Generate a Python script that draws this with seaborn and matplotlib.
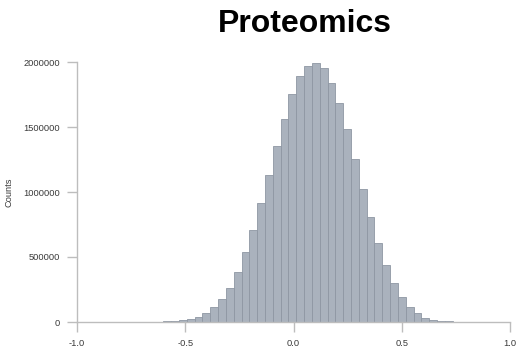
import pandas as pd
import matplotlib
matplotlib.use("Agg")
import matplotlib.pyplot as plt
import seaborn as sns

# Histogram of proteomics values: fixed-width bins, counts per bin
bin_start = -0.637
bin_width = 0.0361
counts = [
    2000, 4000, 7000, 13000, 21000, 36000, 67000, 113000, 175000, 264000,
    384000, 536000, 708000, 913000, 1131000, 1354000, 1564000, 1752000,
    1892000, 1972000, 1995000, 1952000, 1841000, 1682000, 1482000, 1256000,
    1023000, 807000, 608000, 435000, 298000, 194000, 118000, 67000, 33000,
    15000, 8000, 4000, 2000,
]
x_ticks = [-1.0, -0.5, 0.0, 0.5, 1.0]
x_tick_labels = ["-1.0", "-0.5", "0.0", "0.5", "1.0"]
y_ticks = [0, 500000, 1000000, 1500000, 2000000]
y_tick_labels = ["0", "500000", "1000000", "1500000", "2000000"]

edges = [bin_start + bin_width * i for i in range(len(counts) + 1)]
hist_df = pd.DataFrame({
    "value": [(edges[i] + edges[i + 1]) / 2 for i in range(len(counts))],
    "count": counts,
})

sns.set_style("white")
plt.rcParams["font.family"] = ["Liberation Sans", "DejaVu Sans"]

W, H = 520, 352
fig = plt.figure(figsize=(W / 100, H / 100), dpi=100)
ax = fig.add_axes([77 / W, (H - 322) / H, (510 - 77) / W, (322 - 62) / H])

sns.histplot(
    data=hist_df, x="value", weights="count", bins=edges, ax=ax,
    color="#aab2bd", edgecolor="#8e97a3", linewidth=0.6, alpha=1.0,
)

ax.set_xlim(-1.0, 1.0)
ax.set_ylim(0, 2000000)
ax.set_xticks(x_ticks)
ax.set_xticklabels(x_tick_labels)
ax.set_yticks(y_ticks)
ax.set_yticklabels(y_tick_labels)
ax.set_xlabel("")
ax.set_ylabel("")

for side in ("top", "right"):
    ax.spines[side].set_visible(False)
for side in ("left", "bottom"):
    ax.spines[side].set_color("#bdbdbd")
    ax.spines[side].set_linewidth(1.0)

ax.tick_params(axis="both", which="major", direction="out", length=7.2,
               width=1.0, color="#bdbdbd", labelsize=6.7, labelcolor="#3a3a3a",
               pad=5, left=True, bottom=True)

fig.text(9 / W, 1 - 192 / H, "Counts", rotation=90, ha="center", va="center",
         fontsize=6.7, color="#3a3a3a")
fig.text(305 / W, 1 - 32.5 / H, "Proteomics", ha="center", va="baseline",
         fontsize=23, fontweight="bold", color="black")

fig.savefig("out.png", dpi=100)
